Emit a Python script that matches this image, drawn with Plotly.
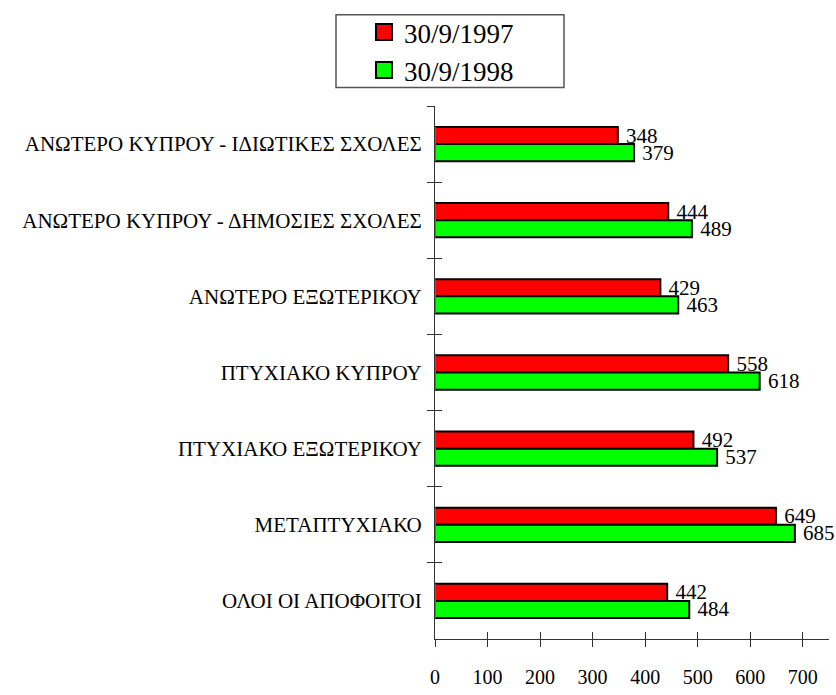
import plotly.graph_objects as go

categories = [
    "ΑΝΩΤΕΡΟ ΚΥΠΡΟΥ - ΙΔΙΩΤΙΚΕΣ ΣΧΟΛΕΣ",
    "ΑΝΩΤΕΡΟ ΚΥΠΡΟΥ - ΔΗΜΟΣΙΕΣ ΣΧΟΛΕΣ",
    "ΑΝΩΤΕΡΟ ΕΞΩΤΕΡΙΚΟΥ",
    "ΠΤΥΧΙΑΚΟ ΚΥΠΡΟΥ",
    "ΠΤΥΧΙΑΚΟ ΕΞΩΤΕΡΙΚΟΥ",
    "ΜΕΤΑΠΤΥΧΙΑΚΟ",
    "ΟΛΟΙ ΟΙ ΑΠΟΦΟΙΤΟΙ",
]
values_1997 = [348, 444, 429, 558, 492, 649, 442]
values_1998 = [379, 489, 463, 618, 537, 685, 484]
series_names = ["30/9/1997", "30/9/1998"]
series_colors = ["#ff0000", "#00ff00"]
x_ticks = [0, 100, 200, 300, 400, 500, 600, 700]

FONT = "Liberation Serif"
AXIS_COLOR = "#333333"

fig = go.Figure()
for name, vals, color in zip(series_names, [values_1997, values_1998], series_colors):
    fig.add_trace(go.Bar(
        y=categories, x=vals, orientation="h", name=name,
        marker=dict(color=color, line=dict(color="black", width=2)),
        texttemplate="\u00a0%{x}", textposition="outside", constraintext="none",
        textfont=dict(family=FONT, size=21, color="black"),
        cliponaxis=False, showlegend=False,
    ))

# legend entries (larger square symbols)
for name, color in zip(series_names, series_colors):
    fig.add_trace(go.Scatter(
        x=[None], y=[None], mode="markers", name=name,
        marker=dict(symbol="square", size=16, color=color,
                    line=dict(color="black", width=2)),
    ))

# overlay axes for ticks crossing the axis lines
fig.add_trace(go.Bar(y=categories, x=[0] * len(categories), orientation="h",
                     xaxis="x2", yaxis="y2", showlegend=False,
                     marker=dict(color="rgba(0,0,0,0)"), hoverinfo="skip"))

W, H = 836, 695
PW, PH, PL, PT = 394, 549, 435, 106


def px_x(fx):
    return (fx - PL) / PW


def px_y(fy):
    return 1 + (PT - fy) / PH


fig.update_layout(
    width=W, height=H,
    margin=dict(l=PL, r=W - PL - PW, t=PT, b=H - PT - PH),
    paper_bgcolor="white", plot_bgcolor="white",
    barmode="group", bargap=0.55, bargroupgap=0,
    font=dict(family=FONT, size=20, color="black"),
    showlegend=True,
    legend=dict(
        x=px_x(364), y=px_y(5), xanchor="left", yanchor="top",
        bgcolor="rgba(0,0,0,0)", borderwidth=0,
        font=dict(family=FONT, size=27, color="black"),
        traceorder="normal", tracegroupgap=0,
    ),
    shapes=[dict(type="rect", xref="paper", yref="paper",
                 x0=px_x(336), x1=px_x(564), y0=px_y(87), y1=px_y(12),
                 line=dict(color="#555555", width=1.5), fillcolor="rgba(0,0,0,0)")],
    xaxis=dict(
        range=[0, 750], tickvals=x_ticks, ticktext=[str(t) for t in x_ticks],
        showgrid=False, zeroline=False, showline=True, linecolor=AXIS_COLOR,
        linewidth=1, ticks="outside", ticklen=7, tickcolor=AXIS_COLOR,
        ticklabelstandoff=13, tickfont=dict(family=FONT, size=20),
    ),
    xaxis2=dict(
        range=[0, 750], tickvals=x_ticks, overlaying="x", anchor="y",
        showgrid=False, zeroline=False, showline=False, ticks="inside",
        ticklen=7, tickcolor=AXIS_COLOR, showticklabels=False,
    ),
    yaxis=dict(
        type="category", categoryarray=categories, categoryorder="array",
        range=[6.5, -0.5], tickson="boundaries",
        showgrid=False, zeroline=False, showline=True, linecolor=AXIS_COLOR,
        linewidth=1, ticks="outside", ticklen=7, tickcolor=AXIS_COLOR,
        ticklabelstandoff=8, tickfont=dict(family=FONT, size=21),
    ),
    yaxis2=dict(
        type="category", categoryarray=categories, categoryorder="array",
        range=[6.5, -0.5], tickson="boundaries", overlaying="y", anchor="x",
        showgrid=False, zeroline=False, showline=False, ticks="inside",
        ticklen=7, tickcolor=AXIS_COLOR, showticklabels=False,
    ),
)

fig.write_html("out.html", config={"displayModeBar": False},
               post_script="document.body.style.margin='0';")
